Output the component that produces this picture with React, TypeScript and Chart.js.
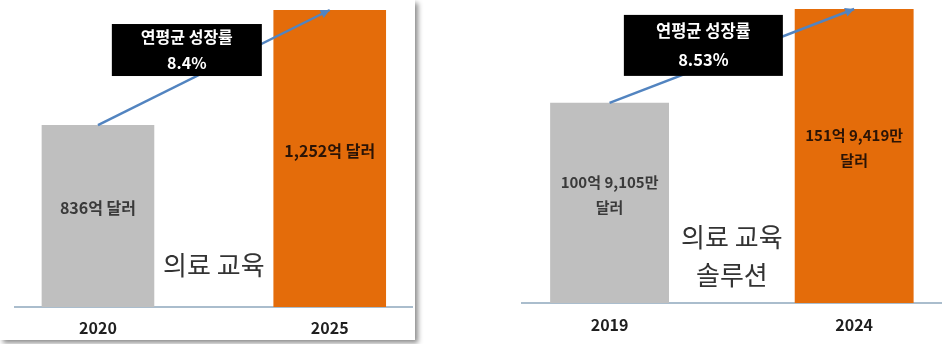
import React, { useEffect, useRef } from 'react';
import { Chart, registerables } from 'chart.js';

Chart.register(...registerables);

// ---------- data ----------
const leftCategories = ['2020', '2025'];
const leftValues = [836, 1252]; // 억 달러
const leftBarLabels = [['836억 달러'], ['1,252억 달러']];
const leftGrowth = ['연평균 성장률', '8.4%'];
const leftTitle = ['의료 교육'];

const rightCategories = ['2019', '2024'];
const rightValues = [100.9105, 151.9419]; // 억 달러
const rightBarLabels = [['100억 9,105만', '달러'], ['151억 9,419만', '달러']];
const rightGrowth = ['연평균 성장률', '8.53%'];
const rightTitle = ['의료 교육', '솔루션'];

const barColors = ['#bfbfbf', '#e46c0a'];
const barTextColors = ['#3a3a3a', '#2b1406'];

const FONT = '"Noto Sans CJK KR", "Noto Sans", sans-serif';

type PanelCfg = {
  categories: string[];
  values: number[];
  barLabels: string[][];
  growth: string[];
  title: string[];
  yMin: number;
  yMax: number;
  width: number;
  height: number;
  pad: { left: number; right: number; top: number };
  axisHeight: number;
  tickPad: number;
  box: { w: number; h: number; dx: number; dy: number; lh: number; size: number };
  labelSize: number;
  titleSize: number;
  titleOffset: number;
};

function Panel({ cfg }: { cfg: PanelCfg }) {
  const ref = useRef<HTMLCanvasElement | null>(null);
  useEffect(() => {
    if (!ref.current) return;
    const overlay = {
      id: 'overlay',
      afterDatasetsDraw(chart: any) {
        const ctx = chart.ctx as CanvasRenderingContext2D;
        const bars = chart.getDatasetMeta(0).data as any[];
        const bottom = chart.chartArea.bottom;
        ctx.save();
        ctx.textAlign = 'center';
        ctx.textBaseline = 'middle';
        // labels inside bars
        bars.forEach((bar, i) => {
          const lines = cfg.barLabels[i];
          const cy = (bar.y + bar.base) / 2 - 8;
          ctx.font = `bold ${cfg.labelSize}px ${FONT}`;
          ctx.fillStyle = barTextColors[i];
          const lh = 25;
          lines.forEach((t, j) => {
            ctx.fillText(t, bar.x, cy + (j - (lines.length - 1) / 2) * lh);
          });
        });
        // arrow between bar tops
        const a = bars[0];
        const b = bars[1];
        ctx.strokeStyle = '#5284c0';
        ctx.fillStyle = '#5284c0';
        ctx.lineWidth = 2.5;
        ctx.beginPath();
        ctx.moveTo(a.x, a.y);
        ctx.lineTo(b.x, b.y);
        ctx.stroke();
        const ang = Math.atan2(b.y - a.y, b.x - a.x);
        const hl = 9;
        const hw = 4.5;
        ctx.beginPath();
        ctx.moveTo(b.x, b.y);
        ctx.lineTo(
          b.x - hl * Math.cos(ang) + hw * Math.sin(ang),
          b.y - hl * Math.sin(ang) - hw * Math.cos(ang)
        );
        ctx.lineTo(
          b.x - hl * Math.cos(ang) - hw * Math.sin(ang),
          b.y - hl * Math.sin(ang) + hw * Math.cos(ang)
        );
        ctx.closePath();
        ctx.fill();
        // black growth box
        const mx = (a.x + b.x) / 2 + cfg.box.dx;
        const my = (a.y + b.y) / 2 + cfg.box.dy;
        ctx.fillStyle = '#000000';
        ctx.fillRect(mx - cfg.box.w / 2, my - cfg.box.h / 2, cfg.box.w, cfg.box.h);
        ctx.fillStyle = '#ffffff';
        ctx.font = `bold ${cfg.box.size}px ${FONT}`;
        cfg.growth.forEach((t, j) => {
          ctx.fillText(t, mx, my + (j - (cfg.growth.length - 1) / 2) * cfg.box.lh);
        });
        // title between bars
        ctx.fillStyle = '#333333';
        ctx.font = `${cfg.titleSize}px ${FONT}`;
        const tx = (a.x + b.x) / 2;
        const n = cfg.title.length;
        cfg.title.forEach((t, j) => {
          ctx.fillText(t, tx, bottom - cfg.titleOffset - (n - 1 - j) * 38);
        });
        ctx.restore();
      },
    };
    const chart = new Chart(ref.current, {
      type: 'bar',
      data: {
        datasets: [
          {
            data: cfg.values.map((v, i) => ({ x: i, y: v })),
            backgroundColor: barColors,
            borderWidth: 0,
            barPercentage: 0.486,
            categoryPercentage: 1,
            base: cfg.yMin,
          } as any,
        ],
      },
      options: {
        responsive: false,
        maintainAspectRatio: false,
        animation: false,
        devicePixelRatio: 1,
        layout: { padding: { left: cfg.pad.left, right: cfg.pad.right, top: cfg.pad.top, bottom: 0 } },
        plugins: { legend: { display: false }, tooltip: { enabled: false } },
        scales: {
          x: {
            type: 'linear',
            min: -0.358,
            max: 1.355,
            offset: false,
            grid: { display: false, drawTicks: false },
            border: { display: true, color: '#aabdcd', width: 2 },
            afterBuildTicks: (scale: any) => {
              scale.ticks = cfg.categories.map((_, i) => ({ value: i }));
            },
            afterFit: (scale: any) => {
              scale.height = cfg.axisHeight;
            },
            ticks: {
              padding: cfg.tickPad,
              maxRotation: 0,
              autoSkip: false,
              color: '#1f1f1f',
              font: { family: FONT, size: 16, weight: 'bold' },
              callback: (value: any) => cfg.categories[value] ?? '',
            },
          },
          y: {
            type: 'linear',
            display: false,
            min: cfg.yMin,
            max: cfg.yMax,
          },
        },
      } as any,
      plugins: [overlay],
    });
    return () => chart.destroy();
  }, [cfg]);
  return <canvas ref={ref} width={cfg.width} height={cfg.height} style={{ display: 'block' }} />;
}

const leftCfg: PanelCfg = {
  categories: leftCategories,
  values: leftValues,
  barLabels: leftBarLabels,
  growth: leftGrowth,
  title: leftTitle,
  yMin: 178,
  yMax: 1252,
  width: 415,
  height: 340,
  pad: { left: 15, right: 3, top: 10 },
  axisHeight: 33,
  tickPad: 11,
  box: { w: 150, h: 52, dx: -27, dy: -17.5, lh: 26, size: 16 },
  labelSize: 16,
  titleSize: 26,
  titleOffset: 42,
};

const rightCfg: PanelCfg = {
  categories: rightCategories,
  values: rightValues,
  barLabels: rightBarLabels,
  growth: rightGrowth,
  title: rightTitle,
  yMin: -8,
  yMax: 151.9419,
  width: 476,
  height: 344,
  pad: { left: 46, right: 11, top: 9 },
  axisHeight: 41,
  tickPad: 12,
  box: { w: 159, h: 61, dx: -28.5, dy: -10.5, lh: 29, size: 16.5 },
  labelSize: 15,
  titleSize: 26,
  titleOffset: 28,
};

export default function App() {
  return (
    <div style={{ position: 'absolute', left: 0, top: 0, width: 952, height: 344, background: '#ffffff', overflow: 'hidden' }}>
      <div
        style={{
          position: 'absolute',
          left: 0,
          top: 0,
          width: 415,
          height: 340,
          background: '#ffffff',
          boxShadow: '3px 3px 5px rgba(0,0,0,0.45)',
        }}
      >
        <Panel cfg={leftCfg} />
      </div>
      <div style={{ position: 'absolute', left: 476, top: 0, width: 476, height: 344, background: '#ffffff' }}>
        <Panel cfg={rightCfg} />
      </div>
    </div>
  );
}
